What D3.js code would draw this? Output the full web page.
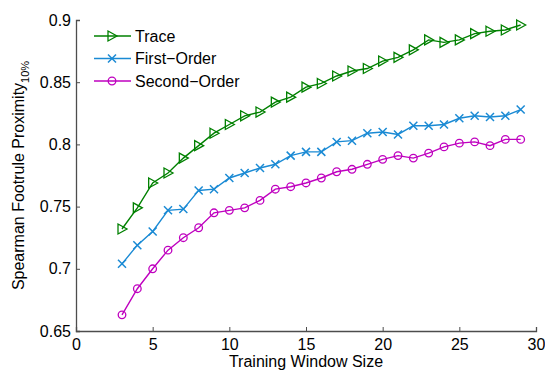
<!DOCTYPE html>
<html>
<head>
<meta charset="utf-8">
<script src="https://cdn.jsdelivr.net/npm/d3@7"></script>
<style>
  body { margin: 0; background: #fff; }
  text { font-family: "Liberation Sans", Arial, sans-serif; }
</style>
</head>
<body>
<svg id="chart" width="545" height="370"></svg>
<script>
const windowSizes = d3.range(3, 30);
const traceValues = [0.732, 0.749, 0.769, 0.777, 0.789, 0.799, 0.809, 0.816, 0.823, 0.826,
  0.834, 0.838, 0.846, 0.849, 0.855, 0.859, 0.861, 0.867, 0.870, 0.876, 0.884, 0.882,
  0.884, 0.889, 0.891, 0.892, 0.896];
const firstOrderValues = [0.704, 0.719, 0.730, 0.747, 0.748, 0.763, 0.764, 0.773, 0.777, 0.781,
  0.784, 0.791, 0.794, 0.794, 0.802, 0.803, 0.809, 0.810, 0.808, 0.815, 0.815, 0.816,
  0.821, 0.823, 0.822, 0.823, 0.828];
const secondOrderValues = [0.663, 0.684, 0.700, 0.715, 0.725, 0.733, 0.745, 0.747, 0.749, 0.755,
  0.764, 0.766, 0.769, 0.773, 0.778, 0.780, 0.784, 0.788, 0.791, 0.789, 0.793, 0.798,
  0.801, 0.802, 0.799, 0.804, 0.804];
const xTicks = [0, 5, 10, 15, 20, 25, 30];
const yTicks = [0.65, 0.7, 0.75, 0.8, 0.85, 0.9];

const series = [
  { name: "Trace", values: traceValues, color: "#008000", marker: "tri" },
  { name: "First\u2212Order", values: firstOrderValues, color: "#1a8ad4", marker: "x" },
  { name: "Second\u2212Order", values: secondOrderValues, color: "#bf00bf", marker: "o" },
];

const svg = d3.select("#chart");
const axisColor = "#4d4d4d";
const fontSize = "16px";

const x = d3.scaleLinear().domain([0, 30]).range([76, 536]);
const y = d3.scaleLinear().domain([0.65, 0.9]).range([331, 20]);

// axes, ticks pointing inward
const xAxis = svg.append("g")
  .attr("transform", `translate(0,${y(0.65)})`)
  .call(d3.axisBottom(x).tickValues(xTicks).tickSize(-4).tickPadding(8).tickFormat(d3.format("d")));
const yAxis = svg.append("g")
  .attr("transform", `translate(${x(0)},0)`)
  .call(d3.axisLeft(y).tickValues(yTicks).tickSize(-4).tickPadding(5).tickFormat(d => String(d)));

[xAxis, yAxis].forEach(g => {
  g.select(".domain").attr("stroke", axisColor).attr("stroke-width", 1.3);
  g.selectAll(".tick line").attr("stroke", axisColor);
  g.selectAll(".tick text").attr("fill", "#000").style("font-size", fontSize)
    .style("font-family", "'Liberation Sans', Arial, sans-serif");
});

// labels
svg.append("text")
  .attr("x", (x(0) + x(30)) / 2).attr("y", 367)
  .attr("text-anchor", "middle").style("font-size", fontSize)
  .text("Training Window Size");

const yl = svg.append("text")
  .attr("transform", `translate(24,${(y(0.65) + y(0.9)) / 2}) rotate(-90)`)
  .attr("text-anchor", "middle").style("font-size", fontSize);
yl.append("tspan").text("Spearman Footrule Proximity");
yl.append("tspan").attr("dy", 5).style("font-size", "11px").text("10%");

function drawMarker(g, kind, cx, cy, color) {
  if (kind === "tri") {
    g.append("path")
      .attr("d", `M${cx - 4},${cy - 5}L${cx + 5},${cy}L${cx - 4},${cy + 5}Z`)
      .attr("fill", "none").attr("stroke", color).attr("stroke-width", 1.3);
  } else if (kind === "x") {
    const s = 4;
    g.append("path")
      .attr("d", `M${cx - s},${cy - s}L${cx + s},${cy + s}M${cx - s},${cy + s}L${cx + s},${cy - s}`)
      .attr("stroke", color).attr("stroke-width", 1.5);
  } else {
    g.append("circle").attr("cx", cx).attr("cy", cy).attr("r", 3.8)
      .attr("fill", "none").attr("stroke", color).attr("stroke-width", 1.3);
  }
}

const line = d3.line().x((d, i) => x(windowSizes[i])).y(d => y(d));

series.forEach(s => {
  const g = svg.append("g");
  g.append("path").datum(s.values).attr("d", line)
    .attr("fill", "none").attr("stroke", s.color).attr("stroke-width", 1.4);
  s.values.forEach((v, i) => drawMarker(g, s.marker, x(windowSizes[i]), y(v), s.color));
});

// legend
const legend = svg.append("g");
series.forEach((s, i) => {
  const ly = 36 + i * 22.5;
  legend.append("line").attr("x1", 94).attr("x2", 131).attr("y1", ly).attr("y2", ly)
    .attr("stroke", s.color).attr("stroke-width", 1.4);
  drawMarker(legend, s.marker, 112, ly, s.color);
  legend.append("text").attr("x", 135).attr("y", ly).attr("dy", "0.36em")
    .style("font-size", fontSize).text(s.name);
});
</script>
</body>
</html>
